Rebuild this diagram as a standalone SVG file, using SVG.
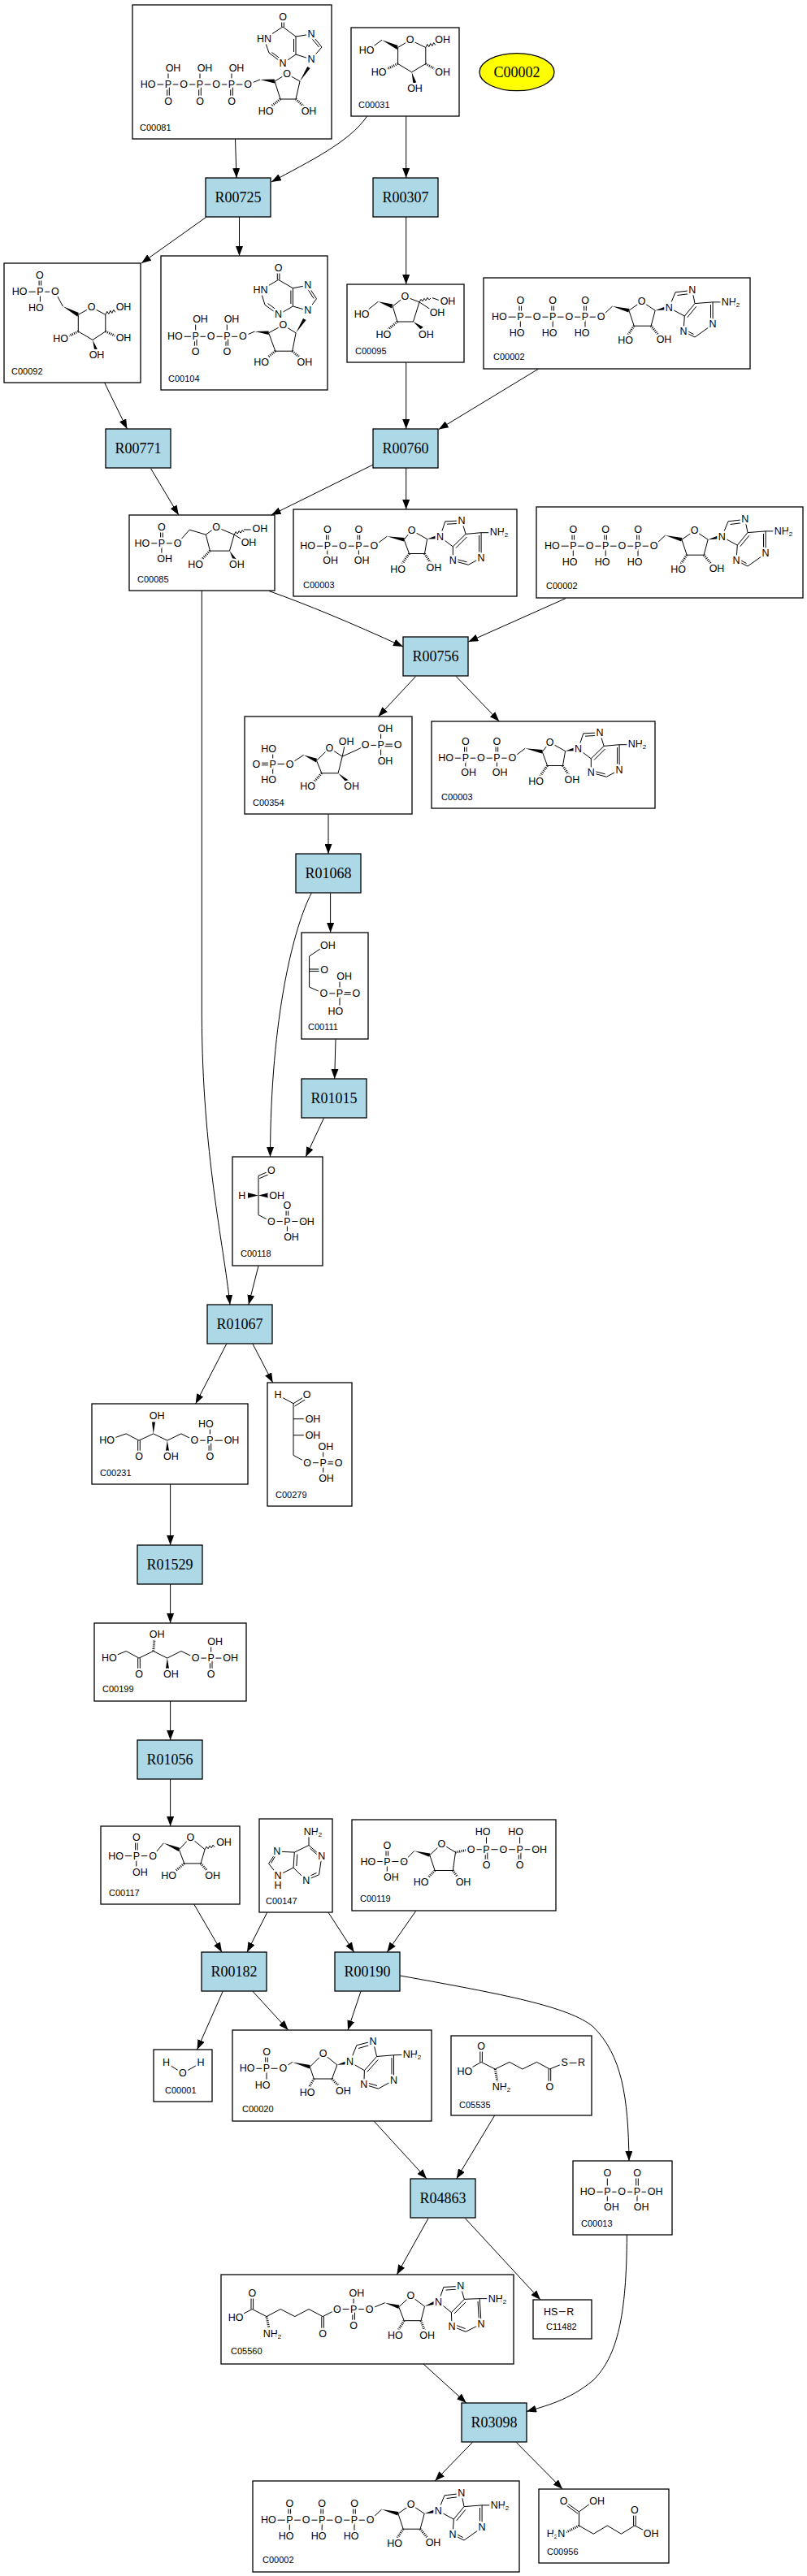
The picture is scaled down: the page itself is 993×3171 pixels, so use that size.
<svg xmlns="http://www.w3.org/2000/svg" width="993" height="3171" viewBox="0 0 993 3171">
<defs>
<style>
.cb{fill:#fff;stroke:#000;stroke-width:1.3}
.rx{fill:#add8e6;stroke:#000;stroke-width:1.3}
.rt{font-family:"Liberation Serif","Times New Roman",serif;font-size:18px;text-anchor:middle;dominant-baseline:central;fill:#000}
.bd{fill:none;stroke:#000;stroke-width:1}
.hs{fill:none;stroke:#000;stroke-width:3;stroke-dasharray:1 1.4}
.w{fill:#000;stroke:none}
.a{font-family:"Liberation Sans",Arial,sans-serif;font-size:12.5px;text-anchor:middle;dominant-baseline:central;fill:#000;stroke:#fff;stroke-width:5;stroke-linejoin:round;paint-order:stroke}
.s{font-size:8px}
.lb{font-family:"Liberation Sans",Arial,sans-serif;font-size:11px;fill:#000}
.e{fill:none;stroke:#000;stroke-width:1;marker-end:url(#ah)}
</style>
<marker id="ah" markerUnits="userSpaceOnUse" markerWidth="12" markerHeight="9" refX="12" refY="4.5" orient="auto"><path d="M0,0L12,4.5L0,9z" fill="#000"/></marker>
</defs>
<rect width="993" height="3171" fill="#fff"/>

<g id="C00002">
<ellipse cx="636" cy="88.7" rx="46" ry="23" fill="#ffff00" stroke="#000" stroke-width="1.3"/>
<text class="rt" x="636" y="88.7">C00002</text>
</g>

<g id="C00081">
<rect class="cb" x="163" y="6" width="245" height="165"/>
<path class="bd" d="M182,104H305L320,98M207,104V84M246,104V84M285,104V84M205.7,104V125M208.3,104V125M244.7,104V125M247.3,104V125M283.7,104V125M286.3,104V125M338,100L353,91L369,100L364,122L345,122ZM346.7,33V21M349.3,33V21M348,33L325,48L331,65L348,78L364,67L364,45L348,33M364,45L383,42L396,58L383,73L364,67M334.5,64.5L347,73.8M361.5,48V64M382.5,46L392.5,58"/>
<polygon class="w" points="320,98 337.8,97.6 337.8,102.4"/>
<polygon class="w" points="369,100 378.2,82 381.6,84"/>
<path class="hs" d="M345,122L331,133M364,122L376,133"/>
<text class="a" x="348" y="21">O</text>
<text class="a" x="325" y="48">HN</text>
<text class="a" x="383" y="42">N</text>
<text class="a" x="383" y="73">N</text>
<text class="a" x="348" y="78">N</text>
<text class="a" x="353" y="91">O</text>
<text class="a" x="213" y="84">OH</text>
<text class="a" x="252" y="84">OH</text>
<text class="a" x="291" y="84">OH</text>
<text class="a" x="182" y="104">HO</text>
<text class="a" x="207" y="104">P</text>
<text class="a" x="226" y="104">O</text>
<text class="a" x="246" y="104">P</text>
<text class="a" x="266" y="104">O</text>
<text class="a" x="285" y="104">P</text>
<text class="a" x="305" y="104">O</text>
<text class="a" x="207" y="125">O</text>
<text class="a" x="246" y="125">O</text>
<text class="a" x="285" y="125">O</text>
<text class="a" x="327" y="137">HO</text>
<text class="a" x="380" y="137">OH</text>
<text class="lb" x="172" y="161">C00081</text>
</g>

<g id="C00031">
<rect class="cb" x="432" y="34" width="133" height="109"/>
<path class="bd" d="M489.6,58.5L504.7,49.2L523.8,58.5L523.8,78.5L506.6,88.8L489.6,78.5ZM470,49.2L458,58M523.8,58.5l2,-4l2,3l2,-4l2,3l2,-4l2,3"/>
<polygon class="w" points="470,49.2 489.6,56 488.6,61"/>
<polygon class="w" points="506.6,88.8 508.3,102 512.5,102"/>
<path class="hs" d="M489.6,78.5L474,86M523.8,78.5L537,86"/>
<text class="a" x="504.7" y="49.2">O</text>
<text class="a" x="544.6" y="49.2">OH</text>
<text class="a" x="451" y="62">HO</text>
<text class="a" x="466" y="88.8">HO</text>
<text class="a" x="544.6" y="88.8">OH</text>
<text class="a" x="510.5" y="108.8">OH</text>
<text class="lb" x="441" y="133">C00031</text>
</g>

<g id="C00092">
<rect class="cb" x="5" y="324" width="168" height="147"/>
<path class="bd" d="M24,359.2H67.8L77.3,377M48.1,359.2V339.2M50.7,359.2V339.2M49.4,359.2V378.8M96.3,387.4L112.7,378.1L129.8,387.4L129.8,408L114,418.4L96.3,408ZM129.8,387.4l2,-4l2,3l2,-4l2,3l2,-4l2,3"/>
<polygon class="w" points="77.3,377 96.8,385 95.3,389.8"/>
<polygon class="w" points="114,418.4 116,430 120,430"/>
<path class="hs" d="M96.3,408L84,414M129.8,408L143,414"/>
<text class="a" x="48.8" y="339.2">O</text>
<text class="a" x="24" y="359.2">HO</text>
<text class="a" x="49.4" y="359.2">P</text>
<text class="a" x="67.8" y="359.2">O</text>
<text class="a" x="44.3" y="378.8">HO</text>
<text class="a" x="112.7" y="378.1">O</text>
<text class="a" x="152" y="378.1">OH</text>
<text class="a" x="74.7" y="417.4">HO</text>
<text class="a" x="152" y="416">OH</text>
<text class="a" x="119" y="436.6">OH</text>
<text class="lb" x="14" y="461">C00092</text>
</g>

<g id="C00104">
<rect class="cb" x="198" y="315" width="205" height="165"/>
<path class="bd" d="M215.3,414.3H298.9L313.5,408M240.7,414.3V392.6M279.3,414.3V392.6M239.4,414.3V433.2M242,414.3V433.2M278,414.3V433.2M280.6,414.3V433.2M330.6,409.8L348.3,400.1L364.1,409.8L359.7,432.2L338.8,432.2ZM341.3,344.4V329.9M343.9,344.4V329.9M342.6,344.4L320.5,357.4L326,375.3L342.6,387.4L360.4,377L360.4,354.7L342.6,344.4M360.4,354.7L378.7,351.2L389.5,367.8L378.7,382.2L360.4,377M329.5,373.5L342,382.8M357.9,357.5V374M378.5,355.5L386,367.5"/>
<polygon class="w" points="313.5,408 330.6,407.5 330.6,412.1"/>
<polygon class="w" points="364.1,409.8 373,392 376.6,394"/>
<path class="hs" d="M338.8,432.2L327,442M359.7,432.2L371,442"/>
<text class="a" x="342.6" y="329.9">O</text>
<text class="a" x="320.5" y="357.4">HN</text>
<text class="a" x="378.7" y="351.2">N</text>
<text class="a" x="378.7" y="382.2">N</text>
<text class="a" x="342.6" y="387.4">N</text>
<text class="a" x="246.5" y="392.6">OH</text>
<text class="a" x="285" y="392.6">OH</text>
<text class="a" x="215.3" y="414.3">HO</text>
<text class="a" x="240.7" y="414.3">P</text>
<text class="a" x="259.7" y="414.3">O</text>
<text class="a" x="279.3" y="414.3">P</text>
<text class="a" x="298.9" y="414.3">O</text>
<text class="a" x="240.7" y="433.2">O</text>
<text class="a" x="279.3" y="433.2">O</text>
<text class="a" x="348.3" y="400.1">O</text>
<text class="a" x="321.7" y="446">HO</text>
<text class="a" x="374.9" y="446">OH</text>
<text class="lb" x="207" y="470">C00104</text>
</g>

<g id="C00095">
<rect class="cb" x="427" y="350" width="144" height="96"/>
<path class="bd" d="M483.2,377L498.4,365L516,371.9L508.5,396L488.9,396ZM465.5,371.2L452,382M516,371.9l2,-3.5l2,2.5l2,-3.5l2,2.5l2,-3.5l2,2.5l2,-2M532,366.7L543,370.5M516,371.9L530,381"/>
<polygon class="w" points="465.5,371.2 483.2,374.5 482,379.5"/>
<polygon class="w" points="508.5,396 517.5,405.5 520.8,402.6"/>
<path class="hs" d="M488.9,396L477,406"/>
<text class="a" x="498.4" y="365">O</text>
<text class="a" x="551" y="371.2">OH</text>
<text class="a" x="538" y="385">OH</text>
<text class="a" x="445.2" y="386.7">HO</text>
<text class="a" x="471.8" y="411.5">HO</text>
<text class="a" x="524.4" y="411.5">OH</text>
<text class="lb" x="437" y="436">C00095</text>
</g>

<g id="C00002_1" transform="translate(595,342)">
<rect class="cb" x="0" y="0" width="328" height="112"/>
<path class="bd" d="M19.3,48.2H144.7L158.6,35M44,48.2V28.2M46.6,48.2V28.2M83.9,48.2V28.2M86.5,48.2V28.2M123.7,48.2V28.2M126.3,48.2V28.2M45.3,48.2V67.8M85.2,48.2V67.8M125,48.2V67.8M178.9,40.2L194.7,29.2L211.2,40.2L206.1,59.2L185.2,59.2ZM228.3,36.8L236,17.8L256.8,15.4L260,31.6L247.3,47.1L228.3,36.8M260,31.6L282.1,29.9L282.1,57.4L260,73L246,66L247.3,47.1M282.1,29.9L304.3,29.9M238.5,21.5L254,19.5M279.5,33V54.5M258.5,69.5L249,64.5M261.8,35.3L250.8,48.7"/>
<polygon class="w" points="158.6,35 179.3,38 178.3,42.4"/>
<polygon class="w" points="211.2,40.2 224.5,35 225.3,39.3"/>
<path class="hs" d="M185.2,59.2L178,70M206.1,59.2L215,70"/>
<text class="a" x="45.3" y="28.2">O</text>
<text class="a" x="85.2" y="28.2">O</text>
<text class="a" x="125" y="28.2">O</text>
<text class="a" x="19.3" y="48.2">HO</text>
<text class="a" x="45.3" y="48.2">P</text>
<text class="a" x="65.5" y="48.2">O</text>
<text class="a" x="85.2" y="48.2">P</text>
<text class="a" x="105.4" y="48.2">O</text>
<text class="a" x="125" y="48.2">P</text>
<text class="a" x="144.7" y="48.2">O</text>
<text class="a" x="41" y="67.8">HO</text>
<text class="a" x="81" y="67.8">HO</text>
<text class="a" x="121" y="67.8">HO</text>
<text class="a" x="194.7" y="29.2">O</text>
<text class="a" x="174.5" y="77.4">HO</text>
<text class="a" x="222" y="76.4">OH</text>
<text class="a" x="228.3" y="36.8">N</text>
<text class="a" x="256.8" y="15.4">N</text>
<text class="a" x="304" y="29.9">NH<tspan class="s" dy="3">2</tspan></text>
<text class="a" x="282.1" y="57.4">N</text>
<text class="a" x="246" y="66">N</text>
<text class="lb" x="12" y="101">C00002</text>
</g>

<g id="C00085" transform="translate(159,634)">
<rect class="cb" x="0" y="0" width="179" height="93"/>
<path class="bd" d="M15.8,34.8H59.5L74.1,18.2L94.3,24.1M38.6,34.8V15.1M41.2,34.8V15.1M39.9,34.8V54.4M94.3,24.1L107,14.8L129.2,24.1L123.5,44.1L99.4,44.1ZM129.2,24.1l2,-3.5l2,2.5l2,-3.5l2,2.5l2,-3.5l2,2.5M141,18H154M129.2,24.1L140,31"/>
<polygon class="w" points="123.5,44.1 128,56 131.5,54"/>
<path class="hs" d="M99.4,44.1L88,56"/>
<text class="a" x="39.9" y="15.1">O</text>
<text class="a" x="15.8" y="34.8">HO</text>
<text class="a" x="39.9" y="34.8">P</text>
<text class="a" x="59.5" y="34.8">O</text>
<text class="a" x="43.7" y="54.4">OH</text>
<text class="a" x="107" y="14.8">O</text>
<text class="a" x="160.8" y="16.5">OH</text>
<text class="a" x="147" y="34">OH</text>
<text class="a" x="81.7" y="61.3">HO</text>
<text class="a" x="132.3" y="61.3">OH</text>
<text class="lb" x="10" y="83">C00085</text>
</g>

<g id="C00003_1" transform="translate(361,627)">
<rect class="cb" x="0" y="0" width="275" height="107"/>
<path class="bd" d="M17.7,45.2H99.4L115.3,33.2M40.5,45.2V25.2M43.1,45.2V25.2M79.1,45.2V25.2M81.7,45.2V25.2M41.8,45.2V63.1M80.4,45.2V63.1M136.2,37.3L145.6,25.9L164.6,36.6L161.5,54.5L142.5,54.5ZM180.5,33.9L186.8,14.9L207.1,13.9L212.1,30.4L196.3,45.9L180.5,33.9M212.1,30.4L231.1,28.7L231.1,59.7L215.3,68.3L196.3,63.1L196.3,45.9M231.1,28.7L251.4,28.7M189,18.2L205,17.3M228.6,32V56.5M213.5,64.8L199,61M213.5,34L200,47.5"/>
<polygon class="w" points="115.3,33.2 136.6,35 135.8,39.5"/>
<polygon class="w" points="164.6,36.6 176.5,32 177,36.3"/>
<path class="hs" d="M142.5,54.5L133,68M161.5,54.5L169,66"/>
<text class="a" x="41.8" y="25.2">O</text>
<text class="a" x="80.4" y="25.2">O</text>
<text class="a" x="17.7" y="45.2">HO</text>
<text class="a" x="41.8" y="45.2">P</text>
<text class="a" x="60.8" y="45.2">O</text>
<text class="a" x="80.4" y="45.2">P</text>
<text class="a" x="99.4" y="45.2">O</text>
<text class="a" x="45.6" y="63.1">OH</text>
<text class="a" x="84.2" y="63.1">OH</text>
<text class="a" x="145.6" y="25.9">O</text>
<text class="a" x="128.5" y="74.1">HO</text>
<text class="a" x="172.9" y="71.7">OH</text>
<text class="a" x="180.5" y="33.9">N</text>
<text class="a" x="207.1" y="13.9">N</text>
<text class="a" x="253" y="27.7">NH<tspan class="s" dy="3">2</tspan></text>
<text class="a" x="231.1" y="59.7">N</text>
<text class="a" x="196.3" y="63.1">N</text>
<text class="lb" x="12" y="97">C00003</text>
</g>

<g id="C00002_2" transform="translate(660,624)">
<rect class="cb" x="0" y="0" width="328" height="112"/>
<path class="bd" d="M19.3,48.2H144.7L158.6,35M44,48.2V28.2M46.6,48.2V28.2M83.9,48.2V28.2M86.5,48.2V28.2M123.7,48.2V28.2M126.3,48.2V28.2M45.3,48.2V67.8M85.2,48.2V67.8M125,48.2V67.8M178.9,40.2L194.7,29.2L211.2,40.2L206.1,59.2L185.2,59.2ZM228.3,36.8L236,17.8L256.8,15.4L260,31.6L247.3,47.1L228.3,36.8M260,31.6L282.1,29.9L282.1,57.4L260,73L246,66L247.3,47.1M282.1,29.9L304.3,29.9M238.5,21.5L254,19.5M279.5,33V54.5M258.5,69.5L249,64.5M261.8,35.3L250.8,48.7"/>
<polygon class="w" points="158.6,35 179.3,38 178.3,42.4"/>
<polygon class="w" points="211.2,40.2 224.5,35 225.3,39.3"/>
<path class="hs" d="M185.2,59.2L178,70M206.1,59.2L215,70"/>
<text class="a" x="45.3" y="28.2">O</text>
<text class="a" x="85.2" y="28.2">O</text>
<text class="a" x="125" y="28.2">O</text>
<text class="a" x="19.3" y="48.2">HO</text>
<text class="a" x="45.3" y="48.2">P</text>
<text class="a" x="65.5" y="48.2">O</text>
<text class="a" x="85.2" y="48.2">P</text>
<text class="a" x="105.4" y="48.2">O</text>
<text class="a" x="125" y="48.2">P</text>
<text class="a" x="144.7" y="48.2">O</text>
<text class="a" x="41" y="67.8">HO</text>
<text class="a" x="81" y="67.8">HO</text>
<text class="a" x="121" y="67.8">HO</text>
<text class="a" x="194.7" y="29.2">O</text>
<text class="a" x="174.5" y="77.4">HO</text>
<text class="a" x="222" y="76.4">OH</text>
<text class="a" x="228.3" y="36.8">N</text>
<text class="a" x="256.8" y="15.4">N</text>
<text class="a" x="304" y="29.9">NH<tspan class="s" dy="3">2</tspan></text>
<text class="a" x="282.1" y="57.4">N</text>
<text class="a" x="246" y="66">N</text>
<text class="lb" x="12" y="101">C00002</text>
</g>

<g id="C00354" transform="translate(301,882)">
<rect class="cb" x="0" y="0" width="206" height="120"/>
<path class="bd" d="M14.4,57.2H34.7M14.4,59.8H34.7M34.7,58.5H55.5L72.7,47.4M34.7,58.5V39.5M34.7,58.5V77.8M88.5,54.3L104.3,38.8L120.2,49.2L115.1,69.8L94.8,69.8ZM120.2,49.2L123,36M120.2,49.2L139.2,40.6L148.7,35.4H167.6M167.6,34.1H188.5M167.6,36.7H188.5M167.6,35.4V14.7M167.6,35.4V55.4"/>
<polygon class="w" points="72.7,47.4 89,51.8 88,56.6"/>
<polygon class="w" points="115.1,69.8 125,81 128,78.5"/>
<path class="hs" d="M94.8,69.8L84,82"/>
<text class="a" x="29.6" y="39.5">HO</text>
<text class="a" x="14.4" y="58.5">O</text>
<text class="a" x="34.7" y="58.5">P</text>
<text class="a" x="55.5" y="58.5">O</text>
<text class="a" x="29.6" y="77.8">HO</text>
<text class="a" x="104.3" y="38.8">O</text>
<text class="a" x="125.2" y="30.9">OH</text>
<text class="a" x="148.7" y="35.4">O</text>
<text class="a" x="167.6" y="35.4">P</text>
<text class="a" x="188.5" y="35.4">O</text>
<text class="a" x="173" y="14.7">OH</text>
<text class="a" x="173" y="55.4">OH</text>
<text class="a" x="77.7" y="86.4">HO</text>
<text class="a" x="131.6" y="86.4">OH</text>
<text class="lb" x="10" y="110">C00354</text>
</g>

<g id="C00003_2" transform="translate(531,888)">
<rect class="cb" x="0" y="0" width="275" height="107"/>
<path class="bd" d="M17.7,45.2H99.4L115.3,33.2M40.5,45.2V25.2M43.1,45.2V25.2M79.1,45.2V25.2M81.7,45.2V25.2M41.8,45.2V63.1M80.4,45.2V63.1M136.2,37.3L145.6,25.9L164.6,36.6L161.5,54.5L142.5,54.5ZM180.5,33.9L186.8,14.9L207.1,13.9L212.1,30.4L196.3,45.9L180.5,33.9M212.1,30.4L231.1,28.7L231.1,59.7L215.3,68.3L196.3,63.1L196.3,45.9M231.1,28.7L251.4,28.7M189,18.2L205,17.3M228.6,32V56.5M213.5,64.8L199,61M213.5,34L200,47.5"/>
<polygon class="w" points="115.3,33.2 136.6,35 135.8,39.5"/>
<polygon class="w" points="164.6,36.6 176.5,32 177,36.3"/>
<path class="hs" d="M142.5,54.5L133,68M161.5,54.5L169,66"/>
<text class="a" x="41.8" y="25.2">O</text>
<text class="a" x="80.4" y="25.2">O</text>
<text class="a" x="17.7" y="45.2">HO</text>
<text class="a" x="41.8" y="45.2">P</text>
<text class="a" x="60.8" y="45.2">O</text>
<text class="a" x="80.4" y="45.2">P</text>
<text class="a" x="99.4" y="45.2">O</text>
<text class="a" x="45.6" y="63.1">OH</text>
<text class="a" x="84.2" y="63.1">OH</text>
<text class="a" x="145.6" y="25.9">O</text>
<text class="a" x="128.5" y="74.1">HO</text>
<text class="a" x="172.9" y="71.7">OH</text>
<text class="a" x="180.5" y="33.9">N</text>
<text class="a" x="207.1" y="13.9">N</text>
<text class="a" x="253" y="27.7">NH<tspan class="s" dy="3">2</tspan></text>
<text class="a" x="231.1" y="59.7">N</text>
<text class="a" x="196.3" y="63.1">N</text>
<text class="lb" x="12" y="97">C00003</text>
</g>

<g id="C00111" transform="translate(371,1148)">
<rect class="cb" x="0" y="0" width="82" height="131"/>
<path class="bd" d="M26,18L9.6,29.1V67L27.4,74.9H47M9.6,45H28M9.6,47.6H28M47,73.6H67.3M47,76.2H67.3M47,74.9V53.9M47,74.9V96.9"/>
<text class="a" x="32.4" y="16">OH</text>
<text class="a" x="28" y="46.3">O</text>
<text class="a" x="52.7" y="53.9">OH</text>
<text class="a" x="27.4" y="74.9">O</text>
<text class="a" x="47" y="74.9">P</text>
<text class="a" x="67.3" y="74.9">O</text>
<text class="a" x="41.9" y="96.9">HO</text>
<text class="lb" x="8" y="120">C00111</text>
</g>

<g id="C00118" transform="translate(286,1424)">
<rect class="cb" x="0" y="0" width="111" height="134"/>
<path class="bd" d="M32,23.4L47.8,16.5M33.3,26.6L47,20.6M32,23.4V71.6L47.8,79.5H91.5M66.1,79.5V59.5M68.7,79.5V59.5M67.4,79.5V99.2"/>
<polygon class="w" points="19,44.3 19,50.7 32,47.5"/>
<polygon class="w" points="45,44.3 45,50.7 32,47.5"/>
<text class="a" x="47.8" y="16.5">O</text>
<text class="a" x="11.7" y="47.5">H</text>
<text class="a" x="54.7" y="47.5">OH</text>
<text class="a" x="47.8" y="79.5">O</text>
<text class="a" x="67.4" y="79.5">P</text>
<text class="a" x="91.5" y="79.5">OH</text>
<text class="a" x="67.4" y="59.5">O</text>
<text class="a" x="72.5" y="99.2">OH</text>
<text class="lb" x="10" y="123">C00118</text>
</g>

<g id="C00231" transform="translate(113,1728)">
<rect class="cb" x="0" y="0" width="192" height="99"/>
<path class="bd" d="M18.7,45.2L42.2,36.9L58,45.2L75.7,36.9L92.8,45.2L109.9,36.9L126.4,45.2H172M56.7,45.2V65.2M59.3,45.2V65.2M145.4,45.2V24.5M144.1,45.2V65.2M146.7,45.2V65.2"/>
<polygon class="w" points="75.7,36.9 74,22.5 78,22.5"/>
<polygon class="w" points="92.8,45.2 91,58 95,58"/>
<text class="a" x="18.7" y="45.2">HO</text>
<text class="a" x="58" y="65.2">O</text>
<text class="a" x="80.2" y="15.2">OH</text>
<text class="a" x="97.3" y="65.2">OH</text>
<text class="a" x="126.4" y="45.2">O</text>
<text class="a" x="145.4" y="45.2">P</text>
<text class="a" x="172" y="45.2">OH</text>
<text class="a" x="140.3" y="24.5">HO</text>
<text class="a" x="145.4" y="65.2">O</text>
<text class="lb" x="10" y="89">C00231</text>
</g>

<g id="C00279" transform="translate(329,1702)">
<rect class="cb" x="0" y="0" width="104" height="152"/>
<path class="bd" d="M13,15.4L32,25.7L48.5,15.4M33.5,29L47,20.5M32,25.7V89.4L49.1,98.7H68.7M32,44.7H56M32,64.7H56M68.7,97.4H87.7M68.7,100H87.7M68.7,98.7V79.1M68.7,98.7V118"/>
<text class="a" x="13" y="15.4">H</text>
<text class="a" x="48.5" y="15.4">O</text>
<text class="a" x="56" y="44.7">OH</text>
<text class="a" x="56" y="64.7">OH</text>
<text class="a" x="49.1" y="98.7">O</text>
<text class="a" x="68.7" y="98.7">P</text>
<text class="a" x="87.7" y="98.7">O</text>
<text class="a" x="71.9" y="79.1">OH</text>
<text class="a" x="72.5" y="118">OH</text>
<text class="lb" x="10" y="142">C00279</text>
</g>

<g id="C00199" transform="translate(116,1998)">
<rect class="cb" x="0" y="0" width="187" height="96"/>
<path class="bd" d="M18.3,43.1L39.2,34.5L55,43.1L72.7,34.5L89.8,43.1L106.9,34.5L124.7,43.1H167.7M53.7,43.1V63.1M56.3,43.1V63.1M143.7,43.1V23.1M142.4,43.1V63.1M145,43.1V63.1"/>
<polygon class="w" points="89.8,43.1 88,56 92,56"/>
<path class="hs" d="M72.7,34.5L74,20"/>
<text class="a" x="18.3" y="43.1">HO</text>
<text class="a" x="55" y="63.1">O</text>
<text class="a" x="77.2" y="13.8">OH</text>
<text class="a" x="94.3" y="63.1">OH</text>
<text class="a" x="124.7" y="43.1">O</text>
<text class="a" x="143.7" y="43.1">P</text>
<text class="a" x="167.7" y="43.1">OH</text>
<text class="a" x="148.7" y="23.1">OH</text>
<text class="a" x="143.7" y="63.1">O</text>
<text class="lb" x="10" y="85">C00199</text>
</g>

<g id="C00117" transform="translate(124,2248)">
<rect class="cb" x="0" y="0" width="171" height="96"/>
<path class="bd" d="M18.5,36.6H64.1L77.4,20.8M42.5,36.6V14.2M45.1,36.6V14.2M43.8,36.6V57.3M96.4,28.7L110.3,13.9L128.1,28.7L123,45.9L102.7,45.9ZM128.1,28.7l2,-3.5l2,2.5l2,-3.5l2,2.5l2,-3.5l2,2.5"/>
<polygon class="w" points="77.4,20.8 96.8,26.5 95.8,31"/>
<path class="hs" d="M102.7,45.9L91,56M123,45.9L132,56"/>
<text class="a" x="43.8" y="14.2">O</text>
<text class="a" x="18.5" y="36.6">HO</text>
<text class="a" x="43.8" y="36.6">P</text>
<text class="a" x="64.1" y="36.6">O</text>
<text class="a" x="48.3" y="57.3">OH</text>
<text class="a" x="110.3" y="13.9">O</text>
<text class="a" x="151.5" y="20.1">OH</text>
<text class="a" x="83.7" y="61.4">HO</text>
<text class="a" x="137.6" y="61.4">OH</text>
<text class="lb" x="10" y="86">C00117</text>
</g>

<g id="C00147" transform="translate(319,2239)">
<rect class="cb" x="0" y="0" width="90" height="115"/>
<path class="bd" d="M61,32.5V18M61,32.5L76.8,46.3L73.6,68.7L57.8,75.6L42,60.1L43.3,41.1L61,32.5M43.3,41.1L21.7,40.1L11.6,54.9L23,69.7L42,60.1M23,69.7V82.4M62.5,36.3L73,45.5M70.5,66.5L58.5,72M45.8,58L46.8,43.5M20.5,44.3L14.6,54.5"/>
<text class="a" x="66" y="16">NH<tspan class="s" dy="3">2</tspan></text>
<text class="a" x="76.8" y="46.3">N</text>
<text class="a" x="57.8" y="75.6">N</text>
<text class="a" x="21.7" y="40.1">N</text>
<text class="a" x="23" y="69.7">N</text>
<text class="a" x="23" y="82.4">H</text>
<text class="lb" x="8" y="105">C00147</text>
</g>

<g id="C00119" transform="translate(433,2240)">
<rect class="cb" x="0" y="0" width="251" height="112"/>
<path class="bd" d="M19.8,51.5H64.1L76.8,38.4M42,51.5V31.5M44.6,51.5V31.5M43.3,51.5V71.1M95.8,43.6L110.4,29.8L127.5,40.1L124.3,62.5L102.1,62.5ZM146.5,36.7H230.7M165.5,36.7V15.3M206.6,36.7V15.3M164.2,36.7V56.3M166.8,36.7V56.3M205.3,36.7V56.3M207.9,36.7V56.3"/>
<polygon class="w" points="76.8,38.4 96.2,41.4 95.4,45.8"/>
<path class="hs" d="M127.5,40.1L141,37.5M102.1,62.5L92,73M124.3,62.5L132,73"/>
<text class="a" x="43.3" y="31.5">O</text>
<text class="a" x="19.8" y="51.5">HO</text>
<text class="a" x="43.3" y="51.5">P</text>
<text class="a" x="64.1" y="51.5">O</text>
<text class="a" x="48.3" y="71.1">OH</text>
<text class="a" x="110.4" y="29.8">O</text>
<text class="a" x="85" y="77">HO</text>
<text class="a" x="137" y="77">OH</text>
<text class="a" x="146.5" y="36.7">O</text>
<text class="a" x="165.5" y="36.7">P</text>
<text class="a" x="186.4" y="36.7">O</text>
<text class="a" x="206.6" y="36.7">P</text>
<text class="a" x="230.7" y="36.7">OH</text>
<text class="a" x="161" y="15.3">HO</text>
<text class="a" x="201.6" y="15.3">HO</text>
<text class="a" x="165.5" y="56.3">O</text>
<text class="a" x="206.6" y="56.3">O</text>
<text class="lb" x="10" y="101">C00119</text>
</g>

<g id="C00001" transform="translate(189,2523)">
<rect class="cb" x="0" y="0" width="72" height="64"/>
<path class="bd" d="M15.6,16.4L35.8,29.2L58,16.4"/>
<text class="a" x="15.6" y="16.4">H</text>
<text class="a" x="58" y="16.4">H</text>
<text class="a" x="35.8" y="29.2">O</text>
<text class="lb" x="14" y="53.5">C00001</text>
</g>

<g id="C00020" transform="translate(286,2499)">
<rect class="cb" x="0" y="0" width="245" height="112"/>
<path class="bd" d="M18,47.3H62.3L73.7,39.4M40.7,47.3V26.6M43.3,47.3V26.6M42,47.3V67.6M95.3,45.2L111.7,29L128.8,42.8L122.5,60L100.3,60ZM144.6,39.4L152.9,18.7L173.1,13.6L177.6,32.5L162.4,49.7L144.6,39.4M177.6,32.5L198.5,30.8L198.5,61.8L179.5,72.1L161.8,66.9L162.4,49.7M198.5,30.8L220.6,30.1M155,22.5L170.5,18M196,34V58.5M178,68.5L164.5,64.5M179.2,36.5L165.7,51.5"/>
<polygon class="w" points="73.7,39.4 95.6,43 94.8,47.5"/>
<polygon class="w" points="128.8,42.8 140.5,38 141.3,42.3"/>
<path class="hs" d="M100.3,60L94,71M122.5,60L131,69"/>
<text class="a" x="42" y="26.6">O</text>
<text class="a" x="18" y="47.3">HO</text>
<text class="a" x="42" y="47.3">P</text>
<text class="a" x="62.3" y="47.3">O</text>
<text class="a" x="37" y="67.6">HO</text>
<text class="a" x="111.7" y="29">O</text>
<text class="a" x="92.1" y="77.3">HO</text>
<text class="a" x="136.4" y="74.9">OH</text>
<text class="a" x="144.6" y="39.4">N</text>
<text class="a" x="173.1" y="13.6">N</text>
<text class="a" x="221" y="30.1">NH<tspan class="s" dy="3">2</tspan></text>
<text class="a" x="198.5" y="61.8">N</text>
<text class="a" x="161.8" y="66.9">N</text>
<text class="lb" x="12" y="101">C00020</text>
</g>

<g id="C05535" transform="translate(555,2506)">
<rect class="cb" x="0" y="0" width="173" height="98"/>
<path class="bd" d="M35.8,32.4V13.4M38.4,32.4V13.4M37.1,32.4L22,41M37.1,32.4L54.2,41L72,32.4L87.8,41L105.5,32.4L121.4,41L139.7,33.4H160.6M120.1,41V62.7M122.7,41V62.7"/>
<path class="hs" d="M54.2,41L57,56"/>
<text class="a" x="37.1" y="13.4">O</text>
<text class="a" x="16.9" y="43.7">HO</text>
<text class="a" x="62" y="63.4">NH<tspan class="s" dy="3">2</tspan></text>
<text class="a" x="121.4" y="62.7">O</text>
<text class="a" x="139.7" y="33.4">S</text>
<text class="a" x="160.6" y="33.4">R</text>
<text class="lb" x="10" y="89">C05535</text>
</g>

<g id="C00013" transform="translate(705,2660)">
<rect class="cb" x="0" y="0" width="122" height="91"/>
<path class="bd" d="M18.2,38.2H101.2M42.3,38.2V14.9M77.7,38.2V14.9M80.3,38.2V14.9M42.3,38.2V57.2M79,38.2V57.2"/>
<text class="a" x="42.3" y="14.9">O</text>
<text class="a" x="79" y="14.9">O</text>
<text class="a" x="18.2" y="38.2">HO</text>
<text class="a" x="42.3" y="38.2">P</text>
<text class="a" x="60" y="38.2">O</text>
<text class="a" x="79" y="38.2">P</text>
<text class="a" x="101.2" y="38.2">OH</text>
<text class="a" x="47.4" y="57.2">OH</text>
<text class="a" x="84.1" y="57.2">OH</text>
<text class="lb" x="10" y="81">C00013</text>
</g>

<g id="C05560" transform="translate(272,2800)">
<rect class="cb" x="0" y="0" width="360" height="110"/>
<path class="bd" d="M37,42.5V22.9M39.6,42.5V22.9M38.3,42.5L24,50M38.3,42.5L56,51.6L73.2,42.5L90.9,51.6L108,42.5L125.1,51.6L142.8,42.5H182.7L201.7,34.7M123.8,51.6V73M126.4,51.6V73M163.1,42.5V22.9M161.8,42.5V62.5M164.4,42.5V62.5M218.8,39.8L233.4,26.3L250.5,39.1L246,56.7L225.2,56.7ZM267.6,33.7L273.9,15.4L294.8,14.4L299.3,30.3L283.4,46.6L267.6,33.7M299.3,30.3L318.2,29.6L320.1,60.8L301.1,70.3L284,63.5L283.4,46.6M318.2,29.6L339.1,29.6M276.5,19L292.5,18M316,33L317.5,57.5M300.5,66.5L287,61.5M301,34L287,48"/>
<polygon class="w" points="201.7,34.7 219.2,37.6 218.4,42"/>
<polygon class="w" points="250.5,39.1 263.5,32 264.3,36.3"/>
<path class="hs" d="M56,51.6L59,66M225.2,56.7L217,70M246,56.7L251,70"/>
<text class="a" x="38.3" y="22.9">O</text>
<text class="a" x="18" y="53.3">HO</text>
<text class="a" x="63" y="73">NH<tspan class="s" dy="3">2</tspan></text>
<text class="a" x="125.1" y="73">O</text>
<text class="a" x="142.8" y="42.5">O</text>
<text class="a" x="163.1" y="42.5">P</text>
<text class="a" x="166.9" y="22.9">OH</text>
<text class="a" x="163.1" y="62.5">O</text>
<text class="a" x="182.7" y="42.5">O</text>
<text class="a" x="233.4" y="26.3">O</text>
<text class="a" x="214.4" y="75.4">HO</text>
<text class="a" x="253.6" y="75.4">OH</text>
<text class="a" x="267.6" y="33.7">N</text>
<text class="a" x="294.8" y="14.4">N</text>
<text class="a" x="340" y="29.6">NH<tspan class="s" dy="3">2</tspan></text>
<text class="a" x="320.1" y="60.8">N</text>
<text class="a" x="284" y="63.5">N</text>
<text class="lb" x="12" y="98">C05560</text>
</g>

<g id="C11482" transform="translate(656,2831)">
<rect class="cb" x="0" y="0" width="72" height="48"/>
<path class="bd" d="M28,14.6H41"/>
<text class="a" x="21.6" y="14.6">HS</text>
<text class="a" x="45.7" y="14.6">R</text>
<text class="lb" x="16" y="37">C11482</text>
</g>

<g id="C00002_3" transform="translate(311,3054)">
<rect class="cb" x="0" y="0" width="328" height="112"/>
<path class="bd" d="M19.3,48.2H144.7L158.6,35M44,48.2V28.2M46.6,48.2V28.2M83.9,48.2V28.2M86.5,48.2V28.2M123.7,48.2V28.2M126.3,48.2V28.2M45.3,48.2V67.8M85.2,48.2V67.8M125,48.2V67.8M178.9,40.2L194.7,29.2L211.2,40.2L206.1,59.2L185.2,59.2ZM228.3,36.8L236,17.8L256.8,15.4L260,31.6L247.3,47.1L228.3,36.8M260,31.6L282.1,29.9L282.1,57.4L260,73L246,66L247.3,47.1M282.1,29.9L304.3,29.9M238.5,21.5L254,19.5M279.5,33V54.5M258.5,69.5L249,64.5M261.8,35.3L250.8,48.7"/>
<polygon class="w" points="158.6,35 179.3,38 178.3,42.4"/>
<polygon class="w" points="211.2,40.2 224.5,35 225.3,39.3"/>
<path class="hs" d="M185.2,59.2L178,70M206.1,59.2L215,70"/>
<text class="a" x="45.3" y="28.2">O</text>
<text class="a" x="85.2" y="28.2">O</text>
<text class="a" x="125" y="28.2">O</text>
<text class="a" x="19.3" y="48.2">HO</text>
<text class="a" x="45.3" y="48.2">P</text>
<text class="a" x="65.5" y="48.2">O</text>
<text class="a" x="85.2" y="48.2">P</text>
<text class="a" x="105.4" y="48.2">O</text>
<text class="a" x="125" y="48.2">P</text>
<text class="a" x="144.7" y="48.2">O</text>
<text class="a" x="41" y="67.8">HO</text>
<text class="a" x="81" y="67.8">HO</text>
<text class="a" x="121" y="67.8">HO</text>
<text class="a" x="194.7" y="29.2">O</text>
<text class="a" x="174.5" y="77.4">HO</text>
<text class="a" x="222" y="76.4">OH</text>
<text class="a" x="228.3" y="36.8">N</text>
<text class="a" x="256.8" y="15.4">N</text>
<text class="a" x="304" y="29.9">NH<tspan class="s" dy="3">2</tspan></text>
<text class="a" x="282.1" y="57.4">N</text>
<text class="a" x="246" y="66">N</text>
<text class="lb" x="12" y="101">C00002</text>
</g>

<g id="C00956" transform="translate(663,3064)">
<rect class="cb" x="0" y="0" width="160" height="91"/>
<path class="bd" d="M49.5,28L35,17.5M48,30.2L34,20M49.5,28L63,18M49.5,28V45L67.2,55.2L84.3,45L101.4,55.2L117.9,45L138.1,55.2M116.6,45V26.4M119.2,45V26.4"/>
<path class="hs" d="M49.5,45L34,53"/>
<text class="a" x="30.5" y="15.2">O</text>
<text class="a" x="71.6" y="15.2">OH</text>
<text class="a" x="21" y="55.2">H<tspan class="s" dy="3">2</tspan><tspan dy="-3">N</tspan></text>
<text class="a" x="117.9" y="26.4">O</text>
<text class="a" x="138.1" y="55.2">OH</text>
<text class="lb" x="10" y="81">C00956</text>
</g>

<g id="R00725"><rect class="rx" x="253" y="219" width="80" height="48"/><text class="rt" x="293" y="243">R00725</text></g>
<g id="R00307"><rect class="rx" x="459" y="219" width="80" height="48"/><text class="rt" x="499" y="243">R00307</text></g>
<g id="R00771"><rect class="rx" x="130" y="528" width="80" height="48"/><text class="rt" x="170" y="552">R00771</text></g>
<g id="R00760"><rect class="rx" x="459" y="528" width="80" height="48"/><text class="rt" x="499" y="552">R00760</text></g>
<g id="R00756"><rect class="rx" x="496" y="784" width="80" height="48"/><text class="rt" x="536" y="808">R00756</text></g>
<g id="R01068"><rect class="rx" x="364" y="1051" width="80" height="48"/><text class="rt" x="404" y="1075">R01068</text></g>
<g id="R01015"><rect class="rx" x="371" y="1328" width="80" height="48"/><text class="rt" x="411" y="1352">R01015</text></g>
<g id="R01067"><rect class="rx" x="255" y="1606" width="80" height="48"/><text class="rt" x="295" y="1630">R01067</text></g>
<g id="R01529"><rect class="rx" x="169" y="1902" width="80" height="48"/><text class="rt" x="209" y="1926">R01529</text></g>
<g id="R01056"><rect class="rx" x="169" y="2142" width="80" height="48"/><text class="rt" x="209" y="2166">R01056</text></g>
<g id="R00182"><rect class="rx" x="248" y="2403" width="80" height="48"/><text class="rt" x="288" y="2427">R00182</text></g>
<g id="R00190"><rect class="rx" x="412" y="2403" width="80" height="48"/><text class="rt" x="452" y="2427">R00190</text></g>
<g id="R04863"><rect class="rx" x="505" y="2682" width="80" height="48"/><text class="rt" x="545" y="2706">R04863</text></g>
<g id="R03098"><rect class="rx" x="568" y="2958" width="80" height="48"/><text class="rt" x="608" y="2982">R03098</text></g>

<g id="edges">
<path class="e" d="M289.5,171L291,219"/>
<path class="e" d="M451.5,143.3C430,175 380,199 334,224"/>
<path class="e" d="M499.7,143.3V219"/>
<path class="e" d="M253.3,267.6L174,324"/>
<path class="e" d="M294.5,267V315"/>
<path class="e" d="M499.7,267V350"/>
<path class="e" d="M128.6,471L156.4,528"/>
<path class="e" d="M499.7,446.3V528"/>
<path class="e" d="M662.4,454.2L539.8,528.6"/>
<path class="e" d="M185.6,576.8L219.8,634"/>
<path class="e" d="M459.1,572L333.8,634"/>
<path class="e" d="M499.7,576V627"/>
<path class="e" d="M331,727.5Q400,752 496,796"/>
<path class="e" d="M696,736.6L576.3,790"/>
<path class="e" d="M511.7,832.5L465.5,882"/>
<path class="e" d="M561.1,832.5L614.3,888"/>
<path class="e" d="M404,1002.5V1051"/>
<path class="e" d="M248.3,727.3L248.3,1250C249,1420 275,1530 283,1606"/>
<path class="e" d="M383.2,1099.5C362,1140 333,1250 332.5,1424"/>
<path class="e" d="M406.6,1099.5V1148"/>
<path class="e" d="M413,1279.4L411.7,1328"/>
<path class="e" d="M398.4,1376.5L376.2,1424"/>
<path class="e" d="M318,1558.3L305.9,1606"/>
<path class="e" d="M278.7,1654.4L240.7,1728"/>
<path class="e" d="M311,1654.4L335.7,1702"/>
<path class="e" d="M209.6,1827.3V1902"/>
<path class="e" d="M209.6,1950.2V1998"/>
<path class="e" d="M209.6,2094V2142"/>
<path class="e" d="M209.6,2190.2V2248"/>
<path class="e" d="M238.8,2344.2L273,2403"/>
<path class="e" d="M328.7,2354.2L304,2403"/>
<path class="e" d="M404,2354.2L435.7,2403"/>
<path class="e" d="M511.7,2352.4L476.3,2403"/>
<path class="e" d="M274.2,2451.3L242.6,2523"/>
<path class="e" d="M311,2451.3L354.7,2499"/>
<path class="e" d="M444,2451.3L428,2499"/>
<path class="e" d="M492.3,2432C620,2455 700,2470 730,2495C765,2530 773,2580 774,2660"/>
<path class="e" d="M460.4,2611.4L525,2682"/>
<path class="e" d="M608.6,2604.2L561.7,2682"/>
<path class="e" d="M527,2730.8L488.3,2800"/>
<path class="e" d="M572.5,2730.8L665,2831"/>
<path class="e" d="M521.2,2910.2L573.8,2958"/>
<path class="e" d="M771.4,2751.4C771,2850 760,2900 730,2930C700,2955 670,2962 648,2968.5"/>
<path class="e" d="M581.4,3006.4L535.2,3054"/>
<path class="e" d="M635.2,3006.4L692.2,3064"/>
</g>
</svg>
